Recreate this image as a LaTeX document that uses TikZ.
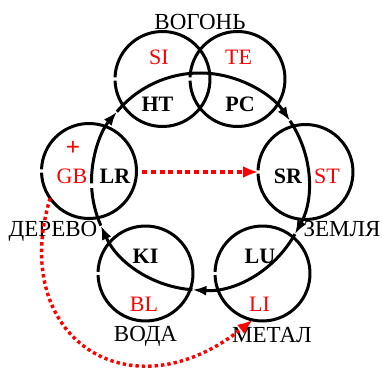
\documentclass[tikz,border=0pt]{standalone}
\usepackage{fontspec}
\setmainfont{Liberation Serif}
\usetikzlibrary{arrows.meta}

\tikzset{
    ring/.style={circle, minimum size=95pt, inner sep=0pt, outer sep=0pt},
    rim/.style={line width=3pt},
    zang/.style={anchor=base, inner sep=0pt, font=\fontsize{22}{24}\selectfont\bfseries},
    fu/.style={anchor=base, inner sep=0pt, red, font=\fontsize{22}{24}\selectfont},
    phase/.style={anchor=base, inner sep=0pt, font=\fontsize{23}{25}\selectfont},
    flow/.style={rim, -{Latex[length=14pt,width=10pt]}},
    redlink/.style={red, line width=3.4pt, dash pattern=on 3.4pt off 3pt, -{Latex[length=15pt,width=12pt]}}
}

\begin{document}
\begin{tikzpicture}[x=1pt, y=1pt]
        \useasboundingbox (0,0) rectangle (382,367);

        % the six circles, each left open a little on its left side
        \foreach \n/\x/\y in {fireL/162.5/288, fireR/237.5/288, wood/89/196,
                              earth/305.5/195, water/145.5/93.5, metal/262.5/93.5}{
            \node[ring] (\n) at (\x,\y) {};
            \draw[rim] (\n.182) arc[start angle=182, delta angle=356, radius=47.5pt];
        }

        % the big cycle
        \coordinate (o) at (200,185.5);
        \foreach \a/\b in {181/140, 140/34, 34/-29, -29/-94, -94/-156}{
            \draw[flow] (o) ++(\a:108.5) arc[start angle=\a, end angle=\b, radius=108.5pt];
        }
        \draw[rim] (o) ++(-156:108.5) arc[start angle=-156, end angle=-176.5, radius=108.5pt];

        % organs
        \node[fu] (si) at (159,302) {SI};
        \node[fu] (te) at (238.5,302) {TE};
        \node[zang] (ht) at (157.5,255) {HT};
        \node[zang] (pc) at (240,255) {PC};
        \node[fu] (gb) at (72,184) {GB};
        \node[zang] (lr) at (115,184) {LR};
        \node[zang] (sr) at (288,183.5) {SR};
        \node[fu] (st) at (327,183.5) {ST};
        \node[zang] (ki) at (145.5,104) {KI};
        \node[zang] (lu) at (260,104) {LU};
        \node[fu] (bl) at (144,56) {BL};
        \node[fu] (li) at (259.5,56) {LI};
        \node[fu, anchor=center, font=\fontsize{25}{27}\selectfont\bfseries] (plus) at (73,219) {+};

        % phases
        \node[phase] (Lfire) at (200,337) {ВОГОНЬ};
        \node[phase] (Lwood) at (53,131) {ДЕРЕВО};
        \node[phase] (Learth) at (342,130.5) {ЗЕМЛЯ};
        \node[phase] (Lwater) at (145.5,26) {ВОДА};
        \node[phase] (Lmetal) at (272,25) {МЕТАЛ};

        % red links
        \draw[redlink, dash pattern=on 5pt off 3.6pt, shorten <=12pt] (lr.east |- earth.west) -- (earth.west);
        \draw[redlink] (wood.215) .. controls (8,29) and (130,-51) .. (metal.258);
\end{tikzpicture}
\end{document}
